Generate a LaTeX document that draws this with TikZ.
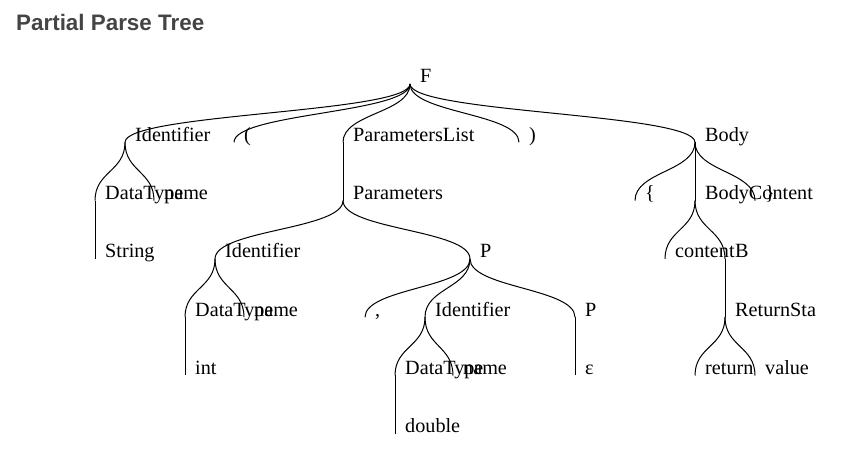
\documentclass[tikz,border=0pt]{standalone}
\usepackage{fontspec}
\setmainfont{Liberation Serif}
\newfontfamily\titlefont{Liberation Sans}
\usetikzlibrary{calc}
\definecolor{titlegray}{HTML}{444444}

\begin{document}
\begin{tikzpicture}[x=1bp, y=-1bp,
  lbl/.style={anchor=base west, inner sep=0pt, xshift=10bp, yshift=1bp,
    font=\fontsize{20.2bp}{24bp}\selectfont},
  link/.style={line width=1bp, black}]

\useasboundingbox (0,0) rectangle (841,455);

\node [anchor=base west, inner sep=0pt, text=titlegray,
  font=\titlefont\bfseries\fontsize{22.4bp}{26bp}\selectfont] (title) at (16,30.5) {Partial Parse Tree};

% level 0 and 1
\coordinate (F) at (410,84);
\coordinate (id1) at (125,142.3);
\coordinate (lp) at (234,142.3);
\coordinate (plist) at (343,142.3);
\coordinate (rp) at (519,142.3);
\coordinate (body) at (695,142.3);

% level 2
\coordinate (dt1) at (95,200.6);
\coordinate (nm1) at (154,200.6);
\coordinate (params) at (343,200.6);
\coordinate (lb) at (635,200.6);
\coordinate (bc) at (695,200.6);
\coordinate (rb) at (755,200.6);

% level 3
\coordinate (str) at (95,258.9);
\coordinate (id2) at (215,258.9);
\coordinate (p1) at (470,258.9);
\coordinate (cont) at (665,258.9);
\coordinate (bb) at (725,258.9);

% level 4
\coordinate (dt2) at (185,317.2);
\coordinate (nm2) at (244,317.2);
\coordinate (comma) at (365,317.2);
\coordinate (id3) at (425,317.2);
\coordinate (p2) at (575,317.2);
\coordinate (rs) at (725,317.2);

% level 5 and 6
\coordinate (int) at (185,375.5);
\coordinate (dt3) at (395,375.5);
\coordinate (nm3) at (453,375.5);
\coordinate (eps) at (575,375.5);
\coordinate (ret) at (695,375.5);
\coordinate (val) at (755,375.5);
\coordinate (dbl) at (395,433.8);

\foreach \a/\b in {F/id1, F/lp, F/plist, F/rp, F/body,
    id1/dt1, id1/nm1, plist/params, body/lb, body/bc, body/rb,
    dt1/str, params/id2, params/p1, bc/cont, bc/bb,
    id2/dt2, id2/nm2, p1/comma, p1/id3, p1/p2, bb/rs,
    dt2/int, id3/dt3, id3/nm3, p2/eps, rs/ret, rs/val, dt3/dbl}
  \draw [link] (\a) .. controls ($(\a)!.5!(\a|-\b)$) and ($(\b)!.5!(\b|-\a)$) .. (\b);

\node [lbl] (F-t) at (F) {F};
\node [lbl] (id1-t) at (id1) {Identifier};
\node [lbl] (lp-t) at (lp) {(};
\node [lbl] (plist-t) at (plist) {ParametersList};
\node [lbl] (rp-t) at (rp) {)};
\node [lbl] (body-t) at (body) {Body};

\node [lbl] (dt1-t) at (dt1) {DataType};
\node [lbl] (nm1-t) at (nm1) {name};
\node [lbl] (params-t) at (params) {Parameters};
\node [lbl] (lb-t) at (lb) {\{};
\node [lbl] (bc-t) at (bc) {BodyContent};
\node [lbl] (rb-t) at (rb) {\}};

\node [lbl] (str-t) at (str) {String};
\node [lbl] (id2-t) at (id2) {Identifier};
\node [lbl] (p1-t) at (p1) {P};
\node [lbl] (cont-t) at (cont) {content};
\node [lbl] (bb-t) at (bb) {B};

\node [lbl] (dt2-t) at (dt2) {DataType};
\node [lbl] (nm2-t) at (nm2) {name};
\node [lbl] (comma-t) at (comma) {,};
\node [lbl] (id3-t) at (id3) {Identifier};
\node [lbl] (p2-t) at (p2) {P};
\node [lbl] (rs-t) at (rs) {ReturnSta};

\node [lbl] (int-t) at (int) {int};
\node [lbl] (dt3-t) at (dt3) {DataType};
\node [lbl] (nm3-t) at (nm3) {name};
\node [lbl] (eps-t) at (eps) {ε};
\node [lbl] (ret-t) at (ret) {return};
\node [lbl] (val-t) at (val) {value};
\node [lbl] (dbl-t) at (dbl) {double};
\end{tikzpicture}
\end{document}
